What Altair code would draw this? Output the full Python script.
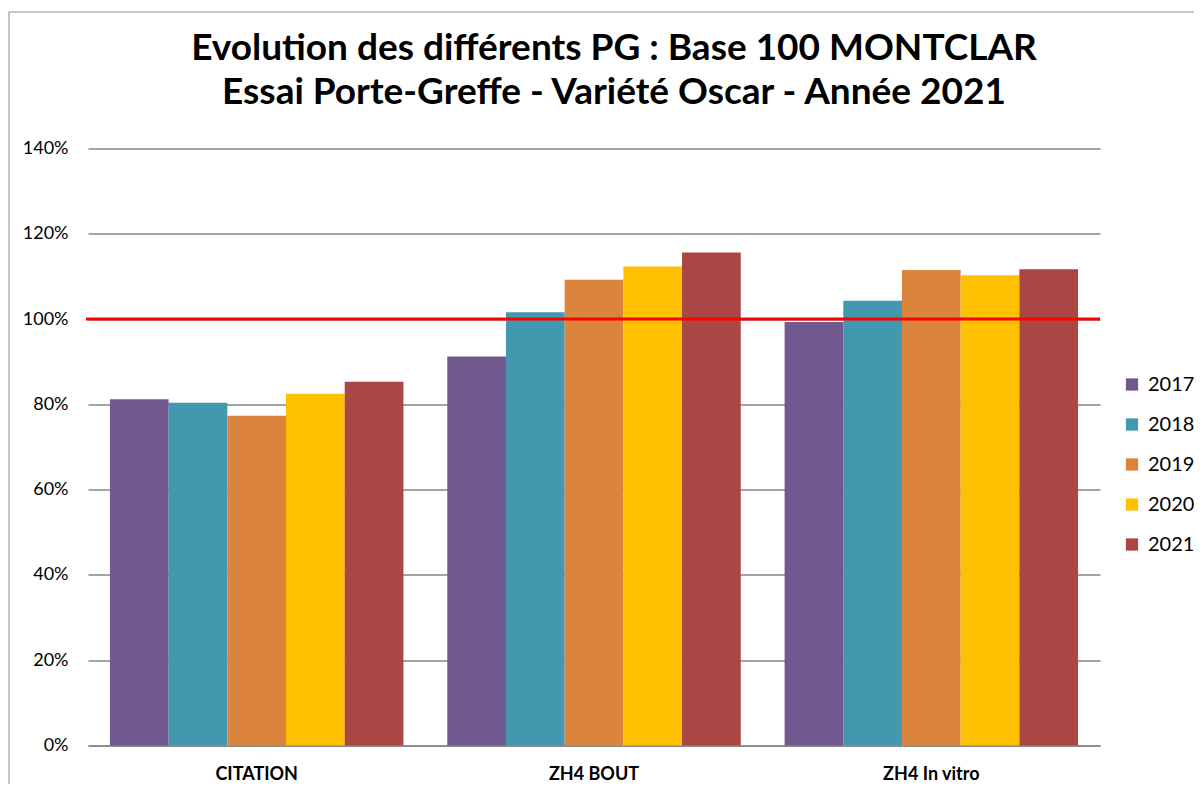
import altair as alt
import pandas as pd

categories = ["CITATION", "ZH4 BOUT", "ZH4 In vitro"]
years = ["2017", "2018", "2019", "2020", "2021"]
v2017 = [0.812, 0.912, 0.993]
v2018 = [0.804, 1.016, 1.043]
v2019 = [0.773, 1.092, 1.115]
v2020 = [0.825, 1.123, 1.103]
v2021 = [0.853, 1.156, 1.117]
colors = ["#71588F", "#4198AF", "#DB843D", "#FFC000", "#AA4643"]
reference = [1.0]
y_ticks = [0, 0.2, 0.4, 0.6, 0.8, 1.0, 1.2, 1.4]

series = [v2017, v2018, v2019, v2020, v2021]
rows = []
for yr, vals in zip(years, series):
    for c, v in zip(categories, vals):
        rows.append({"cat": c, "year": yr, "value": v})
df = pd.DataFrame(rows)
ref_df = pd.DataFrame({"ref": reference})

FONT = "Lato"

bars = alt.Chart(df).mark_bar().encode(
    x=alt.X("cat:N", sort=categories,
            scale=alt.Scale(paddingInner=0.13, paddingOuter=0.065),
            axis=alt.Axis(title=None, labelAngle=0, labelFontWeight="bold",
                          labelFontSize=18, labelFont=FONT, labelColor="#000000",
                          labelPadding=20, ticks=False, domain=True,
                          domainColor="#868686", domainWidth=1.5, grid=False)),
    xOffset=alt.XOffset("year:N", sort=years, scale=alt.Scale(paddingInner=0, paddingOuter=0)),
    y=alt.Y("value:Q", scale=alt.Scale(domain=[0, 1.4], nice=False),
            axis=alt.Axis(title=None, format=".0%", values=y_ticks,
                          labelFontSize=18, labelFont=FONT, labelColor="#000000",
                          labelPadding=20, ticks=False, domain=False,
                          grid=True, gridColor="#868686", gridWidth=1.3)),
    color=alt.Color("year:N", sort=years,
                    scale=alt.Scale(domain=years, range=colors),
                    legend=alt.Legend(title=None, orient="none", legendX=1034, legendY=226,
                                      padding=0, symbolType="square", symbolSize=150,
                                      symbolStrokeWidth=0, labelFontSize=20,
                                      labelFont=FONT, labelColor="#000000",
                                      labelOffset=6, rowPadding=20)),
)

rule = alt.Chart(ref_df).mark_rule(color="#FF0000", strokeWidth=3).encode(
    y=alt.Y("ref:Q"),
    x=alt.value(-2),
    x2=alt.value(1012),
)

border = alt.Chart(ref_df).mark_rect(fill=None, stroke="#8C8C8C", strokeWidth=1, clip=False).encode(
    x=alt.value(-79), x2=alt.value(1120), y=alt.value(-136.5), y2=alt.value(700)
)

chart = alt.layer(border, bars, rule).properties(
    width=1012,
    height=597,
    title=alt.TitleParams(
        text=["Evolution des différents PG : Base 100 MONTCLAR",
              "Essai Porte-Greffe - Variété Oscar - Année 2021"],
        font=FONT, fontSize=37, fontWeight="bold", color="#000000",
        anchor="middle", dx=20, offset=0, dy=129.5, lineHeight=44,
        baseline="alphabetic",
    ),
    autosize=alt.AutoSizeParams(type="none"),
    padding={"left": 80, "top": 140.5, "right": 94, "bottom": 38},
).configure_view(stroke=None)

chart.save("out.html", embed_options={"renderer": "svg", "actions": False})
